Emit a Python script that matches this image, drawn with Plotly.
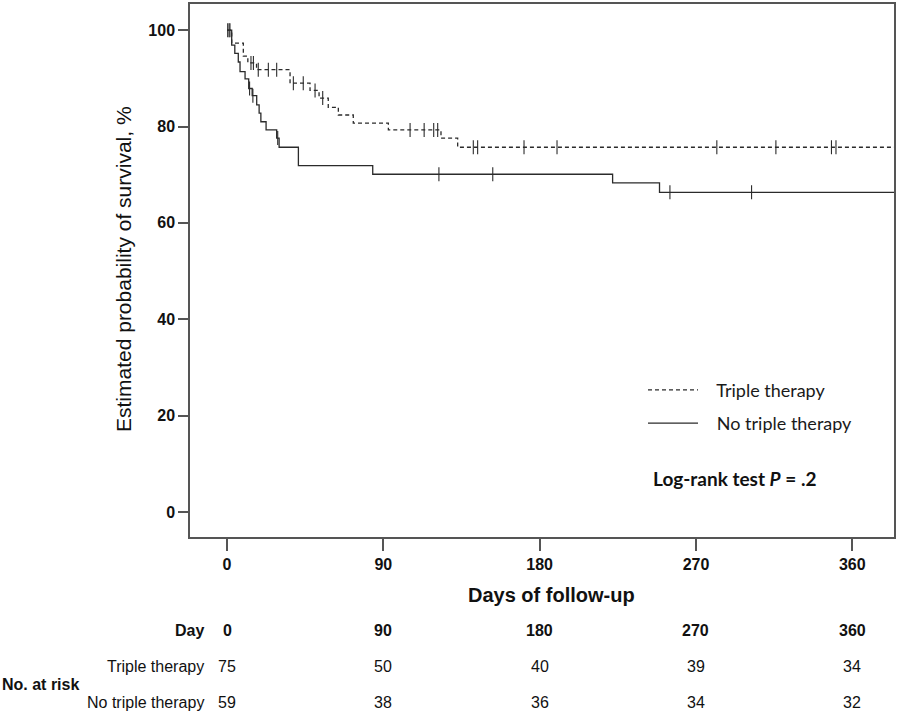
import plotly.graph_objects as go
import numpy as np

# ---------------- data ----------------
# Kaplan-Meier step points (day at which the level starts, survival %)
triple_days = [0, 2.7, 9.4, 12.0, 17.0, 36.3, 47.8, 53.0, 58.3, 64.1, 72.7, 92.9, 123.2, 132.8]
triple_surv = [100, 97.3, 94.6, 93.2, 91.8, 89.0, 87.5, 85.9, 84.0, 82.4, 80.7, 79.3, 77.6, 75.7]
triple_censor_days = [0.4, 1.7, 13.8, 15.2, 18.0, 23.8, 28.6, 38.2, 43.9, 50.7, 55.1,
                      105.4, 113.5, 119.0, 121.3, 141.8, 144.3, 171, 190, 282, 316, 348, 350.6]

none_days = [0, 2.7, 4.5, 6.5, 7.5, 10.4, 12.5, 14.5, 17.1, 18.5, 19.5, 22.5, 28.6, 30.0,
             41.1, 83.9, 222, 249]
none_surv = [100, 96.9, 95.2, 93.4, 91.4, 89.9, 87.9, 86.4, 84.5, 82.8, 81.0, 79.3, 77.6, 75.7,
             71.9, 70.1, 68.3, 66.35]
none_censor_days = [1.2, 13.0, 14.9, 29.2, 122, 153, 255, 302]

end_day = 384

x_ticks = [0, 90, 180, 270, 360]
y_ticks = [0, 20, 40, 60, 80, 100]

risk_days = [0, 90, 180, 270, 360]
risk_triple = [75, 50, 40, 39, 34]
risk_none = [59, 38, 36, 34, 32]

series_names = ["Triple therapy", "No triple therapy"]

# ---------------- helpers ----------------
def step_value(days, surv, t):
    idx = np.searchsorted(np.array(days), t, side="right") - 1
    return surv[max(idx, 0)]

LINE_COL = "#2b2b2b"
FRAME_COL = "#555555"
NBSP = "\u00a0"

fig = go.Figure()

for name, days, surv, cens, dash, grp in [
    (series_names[0], triple_days, triple_surv, triple_censor_days, "4px,3px", "a"),
    (series_names[1], none_days, none_surv, none_censor_days, "solid", "b"),
]:
    xs = list(days) + [end_day]
    ys = list(surv) + [surv[-1]]
    fig.add_trace(go.Scatter(
        x=xs, y=ys, mode="lines", line_shape="hv",
        line=dict(color=LINE_COL, width=1.3, dash=dash),
        name=NBSP * 3 + name, legendgroup=grp, hoverinfo="skip",
    ))
    fig.add_trace(go.Scatter(
        x=cens, y=[step_value(days, surv, t) for t in cens], mode="markers",
        marker=dict(symbol="line-ns-open", size=10, color=LINE_COL,
                    line=dict(color=LINE_COL, width=1.1)),
        showlegend=False, legendgroup=grp, hoverinfo="skip",
    ))

# ---------------- layout ----------------
L, R, T, B = 190, 4, 2, 175
W, H = 898, 712
PW, PH = W - L - R, H - T - B


def px_x(p):
    return (p - L) / PW


def px_y(p):
    return (H - B - p) / PH


AX_FONT = "Liberation Sans, Arial, sans-serif"
fig.update_layout(
    width=W, height=H,
    margin=dict(l=L, r=R, t=T, b=B),
    paper_bgcolor="white", plot_bgcolor="white",
    showlegend=True,
    legend=dict(x=px_x(643), y=px_y(371), xanchor="left", yanchor="top",
                font=dict(family="Lato, Liberation Sans, sans-serif", size=18, color="#1a1a1a"),
                bgcolor="rgba(0,0,0,0)", traceorder="grouped", tracegroupgap=7,
                itemwidth=50),
    xaxis=dict(range=[-21.3, 384], tickvals=x_ticks, ticks="outside", ticklen=12,
               tickwidth=1.5, tickcolor=FRAME_COL, showline=True, linecolor=FRAME_COL,
               linewidth=1.5, mirror=True, showgrid=False, zeroline=False,
               tickfont=dict(family=AX_FONT, size=16, color="#111", weight="bold")),
    yaxis=dict(range=[-5.21, 105.44], tickvals=y_ticks, ticks="outside", ticklen=10,
               tickwidth=1.5, tickcolor=FRAME_COL, showline=True, linecolor=FRAME_COL,
               linewidth=1.5, mirror=True, showgrid=False, zeroline=False,
               tickfont=dict(family=AX_FONT, size=16, color="#111", weight="bold")),
)

ann = []
# axis titles
ann.append(dict(text="Estimated probability of survival, %", x=px_x(123), y=px_y(268),
                xref="paper", yref="paper", textangle=-90, showarrow=False,
                xanchor="center", yanchor="middle",
                font=dict(family=AX_FONT, size=21, color="#111")))
ann.append(dict(text="Days of follow-up", x=px_x(551), y=px_y(595),
                xref="paper", yref="paper", showarrow=False,
                xanchor="center", yanchor="middle",
                font=dict(family=AX_FONT, size=20, color="#111", weight="bold")))
# log-rank
ann.append(dict(text="<b>Log-rank test <i>P</i> = .2</b>", x=px_x(651), y=px_y(478),
                xref="paper", yref="paper", showarrow=False,
                xanchor="left", yanchor="middle",
                font=dict(family="Lato, Liberation Sans, sans-serif", size=19, color="#111")))

# risk table
TF = "Liberation Sans Narrow, Arial Narrow, Liberation Sans, sans-serif"
rows = [("<b>Day</b>", [f"<b>{d}</b>" for d in risk_days], 631),
        (series_names[0], [str(v) for v in risk_triple], 667),
        (series_names[1], [str(v) for v in risk_none], 703)]
for label, vals, ypx in rows:
    ann.append(dict(text=label, x=px_x(206), y=px_y(ypx), xref="paper", yref="paper",
                    showarrow=False, xanchor="right", yanchor="middle",
                    font=dict(family=TF, size=16, color="#111")))
    for d, v in zip(risk_days, vals):
        ann.append(dict(text=v, x=d, y=px_y(ypx), xref="x", yref="paper",
                        showarrow=False, xanchor="center", yanchor="middle",
                        font=dict(family=TF, size=16, color="#111")))
ann.append(dict(text="<b>No. at risk</b>", x=px_x(0), y=px_y(685), xref="paper", yref="paper",
                showarrow=False, xanchor="left", yanchor="middle",
                font=dict(family=TF, size=16, color="#111")))

fig.update_layout(annotations=ann)

fig.write_html("out.html", config={"displayModeBar": False},
               post_script="document.body.style.margin='0';document.body.style.overflow='hidden';")
